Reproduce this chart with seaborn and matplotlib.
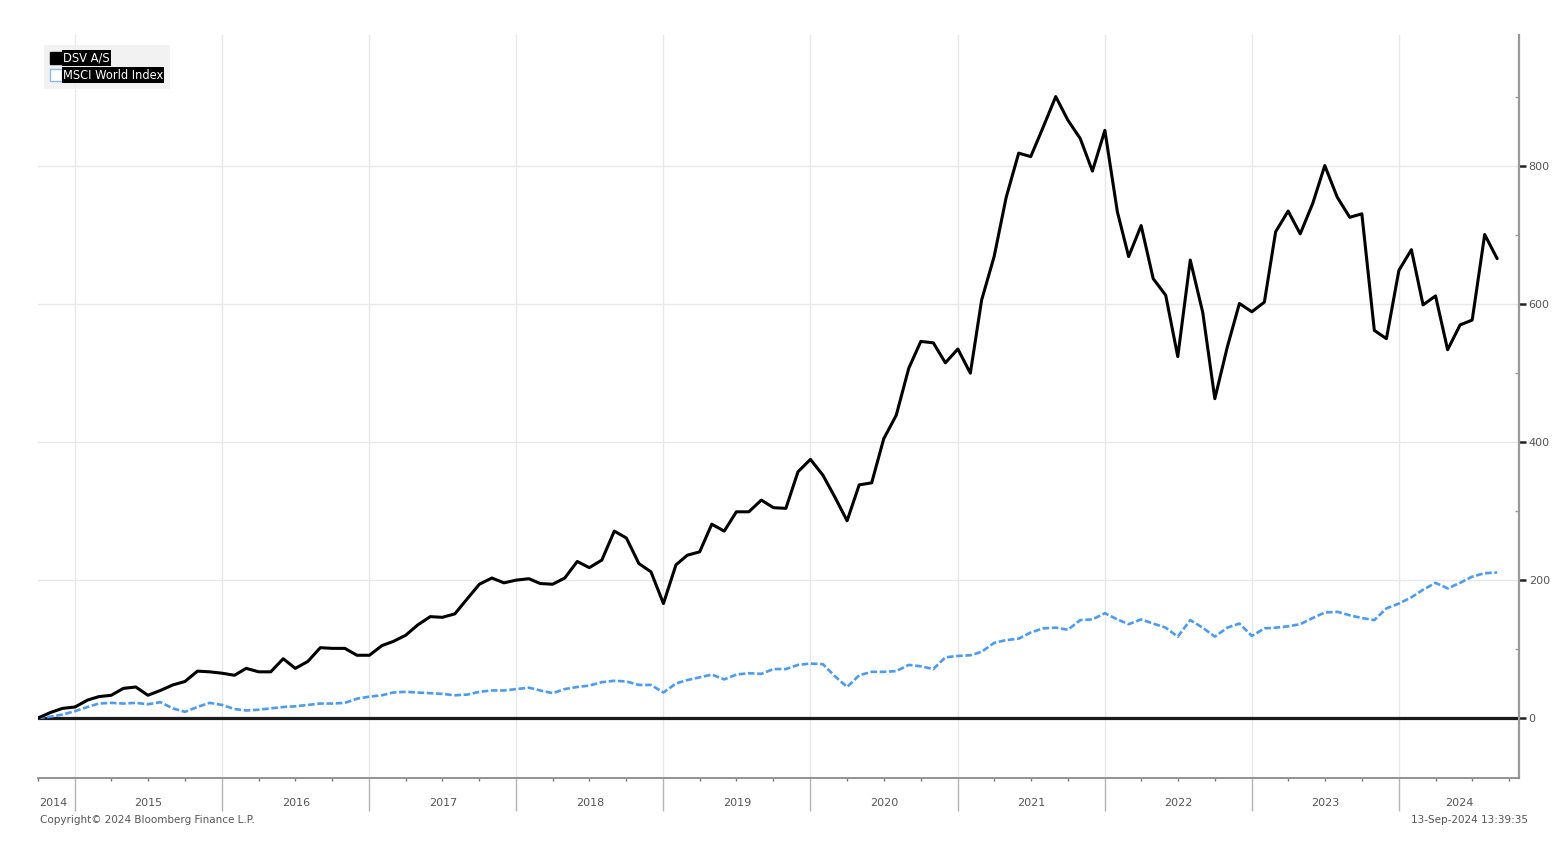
import pandas as pd
import matplotlib.pyplot as plt
import matplotlib.dates as mdates
import matplotlib.transforms as mtransforms
from matplotlib.lines import Line2D
import seaborn as sns

# monthly relative performance (%), Oct 2014 - Sep 2024
dsv = [0, 8, 14, 16, 26, 31, 33, 43, 45, 33, 40, 48, 53, 68, 67, 65, 62, 72, 67, 67,
       86, 72, 82, 102, 101, 101, 91, 91, 105, 111, 120, 135, 147, 146, 151, 173, 194, 203, 196, 200,
       202, 195, 194, 203, 227, 218, 229, 271, 261, 224, 212, 166, 222, 236, 241, 281, 271, 299, 299, 316,
       305, 304, 357, 375, 352, 321, 286, 338, 341, 405, 439, 507, 546, 544, 515, 535, 500, 606, 669, 755,
       819, 814, 857, 901, 867, 840, 793, 852, 734, 669, 714, 637, 613, 524, 664, 588, 463, 538, 601, 589,
       603, 705, 735, 702, 746, 801, 755, 726, 731, 562, 550, 649, 679, 599, 612, 534, 570, 577, 701, 666]
msci = [0, 2, 5, 10, 16, 21, 22, 21, 22, 20, 23, 14, 9, 16, 22, 19, 13, 11, 12, 14,
        16, 17, 19, 21, 21, 22, 28, 31, 33, 37, 38, 37, 36, 35, 33, 34, 38, 40, 40, 42,
        44, 40, 36, 42, 45, 47, 52, 54, 53, 48, 48, 37, 50, 55, 59, 63, 56, 63, 65, 64,
        71, 71, 77, 79, 78, 61, 45, 62, 67, 67, 68, 77, 75, 71, 88, 90, 91, 96, 109, 113,
        115, 124, 130, 131, 128, 142, 143, 152, 143, 136, 143, 137, 131, 118, 142, 131, 118, 131, 137, 119,
        130, 131, 133, 136, 145, 153, 154, 149, 145, 142, 159, 166, 175, 186, 196, 188, 196, 205, 210, 211]
dates = pd.date_range('2014-10-01', periods=len(dsv), freq='MS')
years = list(range(2014, 2025))
series_names = ['DSV A/S', 'MSCI World Index']

df = pd.DataFrame({'date': dates, 'DSV A/S': dsv, 'MSCI World Index': msci})

sns.set_style('white')
plt.rcParams['font.family'] = ['DejaVu Sans']

fig = plt.figure(figsize=(15.68, 8.48), dpi=100)
ax = fig.add_axes([0.0242, 0.0825, 0.9445, 0.876])

x0 = pd.Timestamp('2014-10-01')
x1 = pd.Timestamp('2024-10-25')
ax.set_xlim(x0, x1)
ax.set_ylim(-87, 990)

# grid
for y in [200, 400, 600, 800]:
    ax.axhline(y, color='#e8e8e8', lw=1, zorder=0)
for yr in years[1:]:
    ax.axvline(pd.Timestamp(f'{yr}-01-01'), color='#e8e8e8', lw=1, zorder=0)

ax.axhline(0, color='#1a1a1a', lw=2.3, zorder=2)

sns.lineplot(data=df, x='date', y='MSCI World Index', ax=ax, color='#4c9bf2',
             lw=1.9, linestyle=(0, (2.5, 1.0)), zorder=3)
sns.lineplot(data=df, x='date', y='DSV A/S', ax=ax, color='black', lw=2.2, zorder=4)
ax.set_xlabel('')
ax.set_ylabel('')

# right axis ticks
ax.yaxis.tick_right()
ax.set_yticks([0, 200, 400, 600, 800])
ax.set_yticks([100, 300, 500, 700, 900], minor=True)
ax.tick_params(axis='y', which='major', right=True, direction='out', length=5, width=1.8,
               color='#222222', labelsize=8, labelcolor='#555555', pad=2)
ax.tick_params(axis='y', which='minor', right=True, direction='in', length=3, width=1, color='#999999')

# x axis: year separators + quarter ticks, labels centred in each year
ax.xaxis.set_major_locator(mdates.YearLocator())
ax.xaxis.set_minor_locator(mdates.MonthLocator(bymonth=[4, 7, 10]))
ax.xaxis.set_major_formatter(plt.NullFormatter())
ax.xaxis.set_minor_formatter(plt.NullFormatter())
ax.tick_params(axis='x', which='major', bottom=True, direction='out', length=24, width=1,
               color='#b5b5b5')
ax.tick_params(axis='x', which='minor', bottom=True, direction='out', length=2.5, width=1,
               color='#777777')

trans = mtransforms.blended_transform_factory(ax.transData, ax.transAxes)
for yr in years:
    a = max(pd.Timestamp(f'{yr}-01-01'), x0)
    b = pd.Timestamp(f'{yr + 1}-01-01') if yr < 2024 else x1
    mid = a + (b - a) / 2
    if yr == 2014:
        mid = x0 + (b - x0) * 0.4
    ax.text(mdates.date2num(mid), -0.034, str(yr), transform=trans, ha='center', va='center',
            fontsize=8, color='#555555')

for side in ['left', 'top']:
    ax.spines[side].set_visible(False)
ax.spines['right'].set_color('#9a9a9a')
ax.spines['right'].set_linewidth(1.6)
ax.spines['bottom'].set_color('#8a8a8a')
ax.spines['bottom'].set_linewidth(1.3)

# legend
handles = [Line2D([], [], marker='s', ls='', color='black', markersize=9),
           Line2D([], [], marker='s', ls='', markerfacecolor='white',
                  markeredgecolor='#8fb8ef', markersize=9)]
leg = ax.legend(handles, series_names, loc='upper left', bbox_to_anchor=(0.0, 0.995),
                fontsize=8.3, frameon=True, handlelength=0.9, handletextpad=0.15,
                labelspacing=0.35, borderpad=0.6, fancybox=False)
leg.get_frame().set_facecolor('#efefef')
leg.get_frame().set_edgecolor('none')
for t in leg.get_texts():
    t.set_color('white')
    t.set_bbox(dict(facecolor='black', edgecolor='none', pad=0.8))

fig.text(40 / 1568, 1 - 820 / 848, 'Copyright\u00a9 2024 Bloomberg Finance L.P.', fontsize=7.5,
         color='#555555', ha='left', va='center')
fig.text(1528 / 1568, 1 - 820 / 848, '13-Sep-2024 13:39:35', fontsize=7.5,
         color='#555555', ha='right', va='center')

fig.savefig('out.png', dpi=100)
